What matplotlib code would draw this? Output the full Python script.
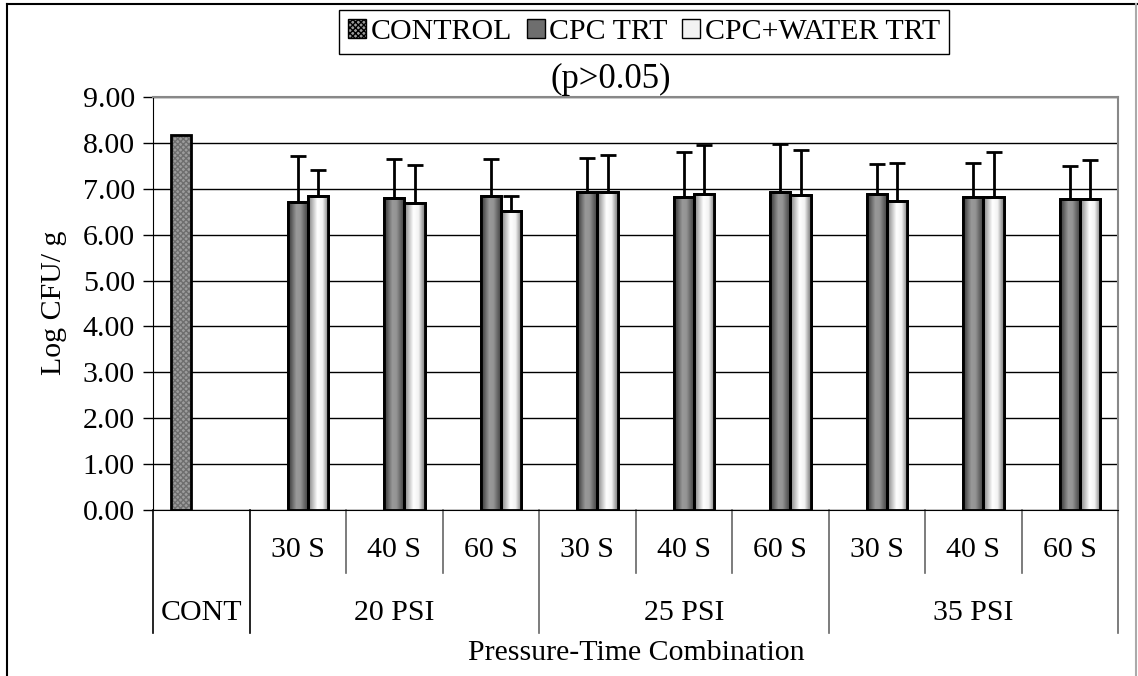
import numpy as np
import matplotlib
matplotlib.use("Agg")
import matplotlib.pyplot as plt
from matplotlib.patches import Patch
from matplotlib.lines import Line2D

plt.rcParams['font.family'] = ['Liberation Serif', 'DejaVu Serif']

# data
times = ["30 S", "40 S", "60 S"] * 3
pressures = ["20 PSI", "25 PSI", "35 PSI"]
control_mean = 8.18
cpc_mean = [6.72, 6.79, 6.85, 6.92, 6.81, 6.93, 6.88, 6.81, 6.77]
cpc_err = [0.99, 0.85, 0.80, 0.74, 1.00, 1.05, 0.65, 0.76, 0.73]
water_mean = [6.85, 6.70, 6.52, 6.92, 6.88, 6.86, 6.74, 6.83, 6.78]
water_err = [0.57, 0.82, 0.32, 0.81, 1.07, 0.99, 0.83, 0.98, 0.84]

FS = 21.5

fig = plt.figure(figsize=(11.38, 6.76), dpi=100)
ax = fig.add_axes([153 / 1138, 1 - 510 / 676, 965 / 1138, 413 / 676])

w = 0.21
x = np.arange(1, 10)


def gradient_fill(bars, stops, vals):
    t = np.linspace(0, 1, 64)
    g = np.interp(t, stops, vals)[None, :]
    for b in bars:
        x0 = b.get_x()
        h = b.get_height()
        im = ax.imshow(g, extent=[x0, x0 + b.get_width(), 0, h], aspect='auto',
                       cmap='gray', vmin=0, vmax=1, zorder=2.5, interpolation='bilinear')
        im.set_clip_path(b)


# control bar (textured)
ax.bar([0 - w], [control_mean], width=w, color='#9c9c9c', hatch='xxxxxx',
       edgecolor='#6e6e6e', linewidth=0, zorder=2)
ax.bar([0 - w], [control_mean], width=w, fill=False, edgecolor='black',
       linewidth=2, zorder=3)

cpc = ax.bar(x, cpc_mean, width=w, color='#777777', edgecolor='black', linewidth=2, zorder=2)
water = ax.bar(x + w, water_mean, width=w, color='#eeeeee', edgecolor='black', linewidth=2, zorder=2)
gradient_fill(cpc, [0, 0.12, 0.4, 0.6, 0.85, 1], [0.22, 0.32, 0.6, 0.58, 0.35, 0.25])
gradient_fill(water, [0, 0.1, 0.45, 0.7, 0.9, 1], [0.5, 0.6, 1.0, 0.95, 0.62, 0.5])
for b in list(cpc) + list(water):
    ax.add_patch(plt.Rectangle((b.get_x(), 0), b.get_width(), b.get_height(),
                               fill=False, edgecolor='black', linewidth=2, zorder=3))

ax.errorbar(x, cpc_mean, yerr=[np.zeros(9), cpc_err], fmt='none', ecolor='black',
            elinewidth=2, capsize=6, capthick=2, zorder=4)
ax.errorbar(x + w, water_mean, yerr=[np.zeros(9), water_err], fmt='none', ecolor='black',
            elinewidth=2, capsize=6, capthick=2, zorder=4)

ax.set_xlim(-0.5, 9.5)
ax.set_ylim(0, 9)
ax.set_yticks(np.arange(0, 10, 1))
ax.set_yticklabels(["%.2f" % v for v in np.arange(0, 10, 1)], fontsize=FS)
ax.tick_params(axis='y', length=7, width=1, pad=6, colors='black')
ax.set_xticks([])
ax.grid(axis='y', color='black', linewidth=1, zorder=0)
ax.set_axisbelow(True)
ax.spines['top'].set_color('#888888')
ax.spines['right'].set_color('#888888')
ax.spines['top'].set_linewidth(1.5)
ax.spines['right'].set_linewidth(1.5)
ax.spines['left'].set_color('black')
ax.spines['bottom'].set_color('black')

# category table under the axis
trans = ax.get_xaxis_transform()
for b in np.arange(-0.5, 10, 1):
    long = b in (-0.5, 0.5, 3.5, 6.5, 9.5)
    y1 = -0.298 if long else -0.153
    col = '#666666' if b in (3.5, 6.5, 9.5) or not long else 'black'
    ax.add_line(Line2D([b, b], [0, y1], transform=trans, color=col,
                       linewidth=1.2, clip_on=False))
for xi, lab in zip(x, times):
    ax.text(xi, -0.096, lab, transform=trans, ha='center', va='center', fontsize=FS)
ax.text(0, -0.25, "CONT", transform=trans, ha='center', va='center', fontsize=FS)
for i, p in enumerate(pressures):
    ax.text(2 + 3 * i, -0.25, p, transform=trans, ha='center', va='center', fontsize=FS)

fig.text(636 / 1138, 1 - 653 / 676, "Pressure-Time Combination", ha='center', va='center', fontsize=FS)
fig.text(54 / 1138, 1 - 303 / 676, "Log CFU/ g", rotation=90, ha='center', va='center', fontsize=FS)
fig.text(611 / 1138, 1 - 79 / 676, "(p>0.05)", ha='center', va='center', fontsize=25)

handles = [Patch(facecolor='#9c9c9c', edgecolor='black', hatch='xxxxxx'),
           Patch(facecolor='#6e6e6e', edgecolor='black'),
           Patch(facecolor='#f2f2f2', edgecolor='black')]
leg = fig.legend(handles, ["CONTROL", "CPC TRT", "CPC+WATER TRT"], loc='center',
                 bbox_to_anchor=(644 / 1138, 1 - 32 / 676), ncol=3, fontsize=FS,
                 handlelength=0.6, handleheight=0.6, handletextpad=0.15,
                 columnspacing=0.5, borderpad=0.3, borderaxespad=0,
                 fancybox=False, framealpha=1)
leg.get_frame().set_edgecolor('black')
leg.get_frame().set_linewidth(1)

# outer chart border
fig.add_artist(Line2D([7 / 1138, 7 / 1138], [0, 1 - 4 / 676], transform=fig.transFigure, color='black', linewidth=1.5))
fig.add_artist(Line2D([7 / 1138, 1137 / 1138], [1 - 4 / 676, 1 - 4 / 676], transform=fig.transFigure, color='black', linewidth=1.5))
fig.add_artist(Line2D([1136 / 1138, 1136 / 1138], [0, 1 - 4 / 676], transform=fig.transFigure, color='#aaaaaa', linewidth=1.5))

fig.savefig("out.png", dpi=100)
